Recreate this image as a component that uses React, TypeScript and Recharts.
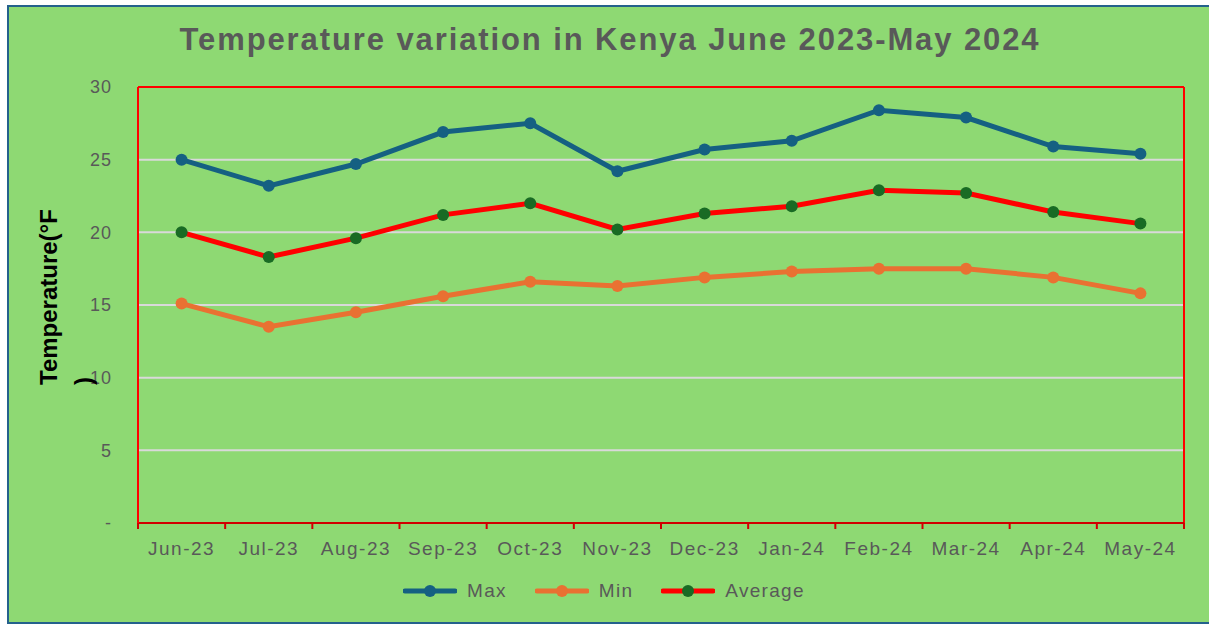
import React from 'react';
import {
  LineChart,
  Line,
  XAxis,
  YAxis,
  CartesianGrid,
  Legend,
} from 'recharts';

const months = [
  'Jun-23', 'Jul-23', 'Aug-23', 'Sep-23', 'Oct-23', 'Nov-23',
  'Dec-23', 'Jan-24', 'Feb-24', 'Mar-24', 'Apr-24', 'May-24',
];
const maxTemp = [25.0, 23.2, 24.7, 26.9, 27.5, 24.2, 25.7, 26.3, 28.4, 27.9, 25.9, 25.4];
const minTemp = [15.1, 13.5, 14.5, 15.6, 16.6, 16.3, 16.9, 17.3, 17.5, 17.5, 16.9, 15.8];
const avgTemp = [20.0, 18.3, 19.6, 21.2, 22.0, 20.2, 21.3, 21.8, 22.9, 22.7, 21.4, 20.6];
const yTicks = [0, 5, 10, 15, 20, 25, 30];

const data = months.map((m, i) => ({
  month: m,
  Max: maxTemp[i],
  Min: minTemp[i],
  Average: avgTemp[i],
}));

const colors = {
  max: '#156082',
  min: '#E97132',
  avg: '#FF0000',
  avgDot: '#196B24',
  bg: '#8ED973',
  text: '#595959',
};

const FONT = '"Liberation Sans", Arial, sans-serif';

const MonthTick = (props: any) => {
  const { x, y, payload, index } = props;
  const half = payload?.offset ?? 43.6;
  return (
    <g>
      <line x1={x - half} x2={x - half} y1={y} y2={y + 6} stroke="#D00000" strokeWidth={2} />
      {index === months.length - 1 && (
        <line x1={x + half} x2={x + half} y1={y} y2={y + 6} stroke="#D00000" strokeWidth={2} />
      )}
      <text
        x={x}
        y={y + 32}
        textAnchor="middle"
        fill={colors.text}
        fontSize={19}
        letterSpacing={1.5}
        fontFamily={FONT}
      >
        {payload.value}
      </text>
    </g>
  );
};

const legendItems = [
  { name: 'Max', line: colors.max, dot: colors.max },
  { name: 'Min', line: colors.min, dot: colors.min },
  { name: 'Average', line: colors.avg, dot: colors.avgDot },
];

const LegendContent = () => (
  <div style={{ display: 'flex', alignItems: 'center', paddingLeft: 394, height: 22 }}>
    {legendItems.map((it) => (
      <div key={it.name} style={{ display: 'flex', alignItems: 'center', marginRight: 28 }}>
        <svg width={54} height={14}>
          <line x1={2} x2={52} y1={7} y2={7} stroke={it.line} strokeWidth={5} strokeLinecap="round" />
          <circle cx={27} cy={7} r={6} fill={it.dot} />
        </svg>
        <span
          style={{
            marginLeft: 10,
            color: colors.text,
            fontSize: 19,
            letterSpacing: 1.3,
            fontFamily: FONT,
          }}
        >
          {it.name}
        </span>
      </div>
    ))}
  </div>
);

export default function App() {
  return (
    <div style={{ position: 'relative', width: 1209, height: 624, background: '#fff', overflow: 'hidden' }}>
      <style>{'body{margin:0}'}</style>
      <div
        style={{
          position: 'absolute',
          left: 7,
          top: 5,
          width: 1204,
          height: 619,
          boxSizing: 'border-box',
          border: '2px solid #24618C',
          background: colors.bg,
        }}
      >
        <div
          style={{
            position: 'absolute',
            left: 0,
            top: 15,
            width: 1202,
            textAlign: 'center',
            fontFamily: FONT,
            fontWeight: 'bold',
            fontSize: 31,
            letterSpacing: 1.9,
            color: colors.text,
          }}
        >
          Temperature variation in Kenya June 2023-May 2024
        </div>
        <LineChart
          width={1200}
          height={613}
          data={data}
          margin={{ top: 80, right: 25, left: 0, bottom: 18 }}
        >
          <CartesianGrid vertical={false} stroke="#D9D9D9" strokeWidth={2} />
          <CartesianGrid
            stroke="#FF0000"
            strokeWidth={2}
            horizontalCoordinatesGenerator={({ offset }: any) => [offset.top, offset.top + offset.height]}
            verticalCoordinatesGenerator={({ offset }: any) => [offset.left, offset.left + offset.width]}
          />
          <XAxis
            dataKey="month"
            scale="band"
            height={57}
            tickLine={false}
            tickSize={0}
            tickMargin={0}
            interval={0}
            axisLine={{ stroke: '#D00000', strokeWidth: 2 }}
            tick={<MonthTick />}
          />
          <YAxis
            width={129}
            domain={[0, 30]}
            ticks={yTicks}
            tickLine={false}
            tickSize={0}
            tickMargin={26}
            axisLine={{ stroke: '#FF0000', strokeWidth: 2 }}
            tickFormatter={(v: number) => (v === 0 ? '-' : String(v))}
            tick={{ fill: colors.text, fontSize: 18, fontFamily: FONT, letterSpacing: 1 }}
          />
          <Legend verticalAlign="bottom" height={22} content={<LegendContent />} />
          <Line
            dataKey="Max"
            stroke={colors.max}
            strokeWidth={5}
            dot={{ r: 6, fill: colors.max, stroke: colors.max, strokeWidth: 0 }}
            isAnimationActive={false}
          />
          <Line
            dataKey="Min"
            stroke={colors.min}
            strokeWidth={5}
            dot={{ r: 6, fill: colors.min, stroke: colors.min, strokeWidth: 0 }}
            isAnimationActive={false}
          />
          <Line
            dataKey="Average"
            stroke={colors.avg}
            strokeWidth={5}
            dot={{ r: 6, fill: colors.avgDot, stroke: colors.avgDot, strokeWidth: 0 }}
            isAnimationActive={false}
          />
        </LineChart>
      </div>
      <svg
        width={130}
        height={600}
        style={{ position: 'absolute', left: 0, top: 0, pointerEvents: 'none' }}
      >
        <text
          transform="translate(57,385) rotate(-90)"
          fontFamily={FONT}
          fontWeight="bold"
          fontSize={24}
          fill="#000"
        >
          Temperature(°F
        </text>
        <text
          transform="translate(92,385) rotate(-90)"
          fontFamily={FONT}
          fontWeight="bold"
          fontSize={24}
          fill="#000"
        >
          )
        </text>
      </svg>
    </div>
  );
}
